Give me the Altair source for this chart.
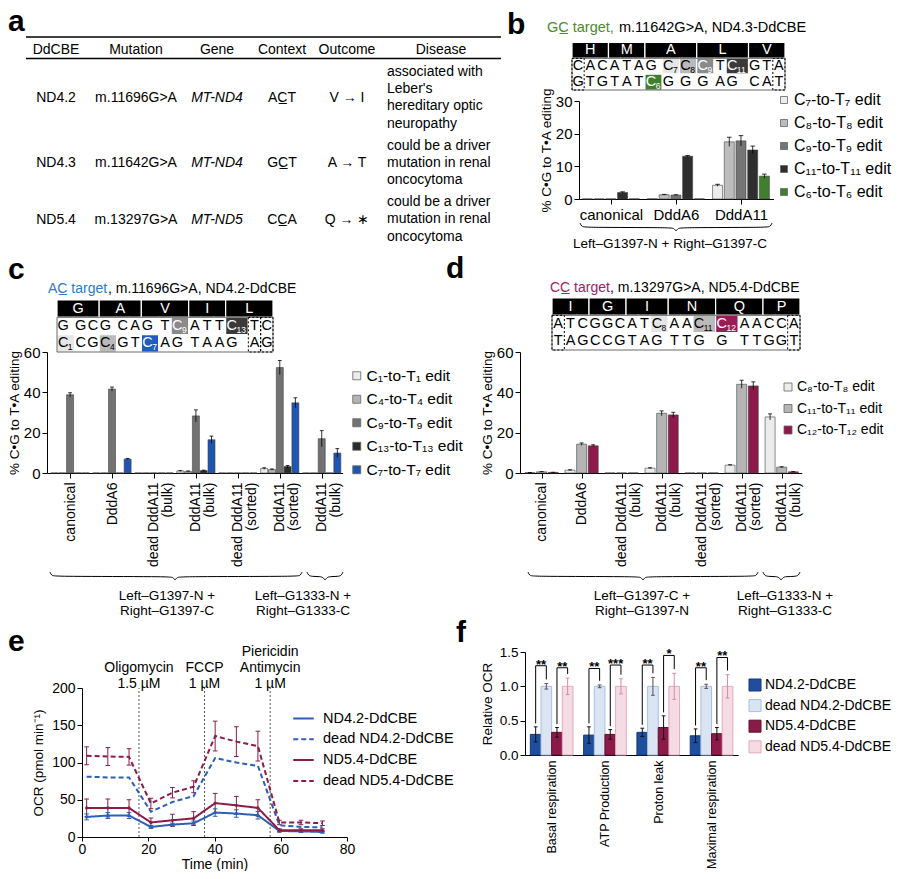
import json
import altair as alt
import pandas as pd

W, H = 884, 863
FONT = "Liberation Sans"


def R(v):
    """reference pixel -> view pixel (page margin is 8px)"""
    return v - 8


# =====================================================================
# DATA
# =====================================================================
# ---- panel a (table) ----
tbl_header = ["DdCBE", "Mutation", "Gene", "Context", "Outcome", "Disease"]
tbl_ddcbe = ["ND4.2", "ND4.3", "ND5.4"]
tbl_mutation = ["m.11696G>A", "m.11642G>A", "m.13297G>A"]
tbl_gene = ["MT-ND4", "MT-ND4", "MT-ND5"]
tbl_context = ["AC\u0332T", "GC\u0332T", "CC\u0332A"]
tbl_outcome = ["V \u2192 I", "A \u2192 T", "Q \u2192 \u2217"]
tbl_disease = [
    "associated with\nLeber's\nhereditary optic\nneuropathy",
    "could be a driver\nmutation in renal\noncocytoma",
    "could be a driver\nmutation in renal\noncocytoma",
]

# ---- panel b ----
b_groups = ["canonical", "DddA6", "DddA11"]
b_edits = ["C₇-to-T₇ edit", "C₈-to-T₈ edit", "C₉-to-T₉ edit", "C₁₁-to-T₁₁ edit", "C₆-to-T₆ edit"]
b_mean = [[0.05, 0.05, 0.05, 2.0, 0.05],
          [0.1, 1.3, 1.2, 13.1, 0.05],
          [4.2, 17.5, 17.8, 15.0, 7.0]]
b_sd = [[0, 0, 0, 0.2, 0],
        [0, 0.1, 0.1, 0.2, 0],
        [0.3, 1.4, 1.6, 1.2, 0.6]]
b_aa = ["H", "M", "A", "L", "V"]
b_top = ["C", "A", "C", "A", "T", "A", "G", "C7", "C8", "C9", "T", "C11", "G", "T", "A"]
b_bottom = ["G", "T", "G", "T", "A", "T", "C6", "G", "G", "G", "A", "G", "C", "A", "T"]
b_shade = {(1, 7): "g1", (1, 8): "g2", (1, 9): "g3", (1, 11): "g4", (2, 6): "green"}
b_dashed = [0, 14]

# ---- panel c ----
cd_groups = ["canonical", "DddA6", "dead DddA11\n(bulk)", "DddA11\n(bulk)",
             "dead DddA11\n(sorted)", "DddA11\n(sorted)", "DddA11\n(bulk)"]
c_edits = ["C₁-to-T₁ edit", "C₄-to-T₄ edit", "C₉-to-T₉ edit", "C₁₃-to-T₁₃ edit", "C₇-to-T₇ edit"]
c_mean = [[0.05, 0.05, 38.8, 0.05, 0.05],
          [0.05, 0.05, 41.6, 0.05, 6.9],
          [0.05, 0.05, 0.05, 0.05, 0.05],
          [1.0, 0.8, 28.3, 1.2, 16.5],
          [0.05, 0.05, 0.05, 0.05, 0.05],
          [2.2, 1.7, 52.3, 3.2, 34.8],
          [0.05, 0.05, 17.0, 0.05, 9.9]]
c_sd = [[0, 0, 1.0, 0, 0],
        [0, 0, 1.0, 0, 0.3],
        [0, 0, 0, 0, 0],
        [0.2, 0.2, 3.0, 0.2, 1.8],
        [0, 0, 0, 0, 0],
        [0.4, 0.3, 3.5, 0.5, 2.5],
        [0, 0, 4.0, 0, 2.2]]
c_aa = ["G", "A", "V", "I", "L"]
c_top = ["G", "G", "C", "G", "C", "A", "G", "T", "C9", "A", "T", "T", "C13", "T", "C"]
c_bottom = ["C1", "C", "G", "C4", "G", "T", "C7", "A", "G", "T", "A", "A", "G", "A", "G"]
c_shade = {(1, 8): "g3", (1, 12): "g4", (2, 0): "g1", (2, 3): "g2", (2, 6): "blue"}
c_dashed = [13, 14]

# ---- panel d ----
d_edits = ["C₈-to-T₈ edit", "C₁₁-to-T₁₁ edit", "C₁₂-to-T₁₂ edit"]
d_mean = [[0.2, 0.6, 0.3],
          [1.4, 14.3, 13.5],
          [0.05, 0.05, 0.05],
          [2.4, 29.6, 28.8],
          [0.05, 0.05, 0.05],
          [3.9, 44.0, 43.2],
          [27.8, 2.9, 0.6]]
d_sd = [[0.05, 0.1, 0.05],
        [0.2, 0.6, 0.5],
        [0, 0, 0],
        [0.2, 1.2, 1.3],
        [0, 0, 0],
        [0.2, 2.0, 2.0],
        [1.5, 0.2, 0.1]]
d_aa = ["I", "G", "I", "N", "Q", "P"]
d_top = ["A", "T", "C", "G", "G", "C", "A", "T", "C8", "A", "A", "C11", "C12", "A", "A", "C", "C", "A"]
d_bottom = ["T", "A", "G", "C", "C", "G", "T", "A", "G", "T", "T", "G", "G", "T", "T", "G", "G", "T"]
d_shade = {(1, 8): "g1", (1, 11): "g2", (1, 12): "maroon"}
d_dashed = [0, 17]

# ---- panel e ----
e_time = [1.4, 7.8, 14.2, 20.8, 27.3, 33.7, 40.2, 46.6, 53.1, 59.6, 66.1, 72.6]
e_series = ["ND4.2-DdCBE", "dead ND4.2-DdCBE", "ND5.4-DdCBE", "dead ND5.4-DdCBE"]
e_mean = [[27, 28.8, 28.8, 13.5, 16.6, 18.4, 32.8, 31.5, 29.2, 8.1, 7.6, 6.7],
          [81, 80, 80, 34, 47, 55, 106, 100, 95.5, 15.7, 13.5, 13],
          [39, 39, 39, 19.5, 22.5, 25, 45.5, 42.5, 39, 9, 9, 9],
          [109, 108, 107.5, 45, 59.5, 67.5, 135.5, 128, 122, 19.5, 19.5, 18.5]]
e_err = [[4, 4, 4, 2, 2, 3, 5, 5, 5, 1.5, 1.5, 1.5],
         [0, 0, 0, 0, 0, 0, 0, 0, 0, 0, 0, 0],
         [12, 12, 11, 6, 8, 9, 13, 12, 11, 2, 2, 2],
         [12, 12, 11, 7, 7, 8, 20, 20, 20, 3, 3, 3]]
e_inj_time = [17.2, 37.0, 56.8]
e_inj_label = ["Oligomycin\n1.5 µM", "FCCP\n1 µM", "Piericidin\nAntimycin\n1 µM"]

# ---- panel f ----
f_cats = ["Basal respiration", "ATP Production", "Proton leak", "Maximal respiration"]
f_series = ["ND4.2-DdCBE", "dead ND4.2-DdCBE", "ND5.4-DdCBE", "dead ND5.4-DdCBE"]
f_mean = [[0.30, 0.29, 0.33, 0.28],
          [1.0, 1.0, 1.0, 1.0],
          [0.33, 0.30, 0.40, 0.31],
          [1.0, 1.0, 1.0, 1.0]]
f_sd = [[0.11, 0.12, 0.06, 0.10],
        [0.04, 0.02, 0.13, 0.03],
        [0.07, 0.07, 0.17, 0.09],
        [0.12, 0.11, 0.19, 0.17]]
f_pairs = [(0, 1), (2, 3)]
f_stars = [["**", "**", "**", "**"], ["**", "***", "*", "**"]]
f_bracket = [[1.30, 1.26, 1.31, 1.27], [1.27, 1.31, 1.45, 1.42]]

# =====================================================================
# STYLE / LAYOUT
# =====================================================================
SEQ_SHADE = {"aa": "#000000", "plain": "#ffffff", "g1": "#e6e6e6", "g2": "#bababa",
             "g3": "#8a8a8a", "g4": "#3a3a3a", "green": "#3f7f2f", "blue": "#1f5cc0",
             "maroon": "#9b1c55"}
WHITE_TEXT = {"aa", "g3", "g4", "green", "blue", "maroon"}

b_colors = ["#ececec", "#bdbdbd", "#757575", "#2e2e2e", "#3f7f2f"]
c_colors = ["#ececec", "#b3b3b3", "#727272", "#2b2b2b", "#1f55b0"]
d_colors = ["#ececec", "#b5b5b5", "#8e1a4b"]
e_colors = ["#2c5fb5", "#2c5fb5", "#8b1c48", "#8b1c48"]
f_fill = ["#1f4e9e", "#dae4f3", "#8b1a48", "#f4dbe4"]
f_stroke = ["#15397a", "#a9bfe3", "#5f1030", "#e4a9bf"]
f_errc = ["#111111", "#555555", "#111111", "#d98aa6"]


def lin(domain, rng):
    return alt.Scale(domain=domain, range=[R(rng[0]), R(rng[1])], nice=False, zero=False)


def ident_text(rows, align="center", baseline="alphabetic", weight="normal",
               style="normal", line_height=None):
    df = pd.DataFrame(rows)
    df["x"] = df["x"].map(R)
    df["y"] = df["y"].map(R)
    kw = dict(align=align, baseline=baseline, font=FONT, fontWeight=weight,
              fontStyle=style, lineBreak="\n")
    if line_height:
        kw["lineHeight"] = line_height
    return alt.Chart(df).mark_text(**kw).encode(
        x=alt.X("x:Q", scale=None, axis=None),
        y=alt.Y("y:Q", scale=None, axis=None),
        text="t:N",
        color=alt.Color("c:N", scale=None, legend=None),
        size=alt.Size("fs:Q", scale=None, legend=None),
    )


layers = []

# ---------------- panel letters ----------------
letters = ["a", "b", "c", "d", "e", "f"]
letter_pos = [(8, 31), (507, 34), (8, 279), (446, 278), (8, 651), (456, 642)]
layers.append(ident_text(
    [dict(x=p[0], y=p[1], t=l, c="black", fs=30) for l, p in zip(letters, letter_pos)],
    align="left", weight="bold"))

# ---------------- panel a ----------------
col_x = [56, 136, 217, 282, 347, 441]
row_base = [101.5, 167, 224]
disease_x = 387
disease_top = [64.5, 138.5, 195]
rows = [dict(x=cx, y=53.5, t=h, c="black", fs=14) for cx, h in zip(col_x, tbl_header)]
for i in range(3):
    for cx, v in zip([56, 136, 282, 347], [tbl_ddcbe[i], tbl_mutation[i], tbl_context[i], tbl_outcome[i]]):
        rows.append(dict(x=cx, y=row_base[i], t=v, c="black", fs=14))
layers.append(ident_text(rows))
layers.append(ident_text([dict(x=217, y=row_base[i], t=tbl_gene[i], c="black", fs=14) for i in range(3)],
                         style="italic"))
layers.append(ident_text([dict(x=disease_x, y=disease_top[i], t=tbl_disease[i], c="black", fs=14)
                          for i in range(3)], align="left", baseline="top", line_height=17.4))
rule_df = pd.DataFrame({"x": [R(26), R(26)], "x2": [R(501), R(501)], "y": [R(37), R(58.5)]})
layers.append(alt.Chart(rule_df).mark_rule(color="black", strokeWidth=1.3).encode(
    x=alt.X("x:Q", scale=None, axis=None), x2="x2:Q", y=alt.Y("y:Q", scale=None, axis=None)))

# ---------------- titles ----------------
layers.append(ident_text([
    dict(x=547, y=32, t="GC\u0332 target,", c="#4b8b2b", fs=14.5),
    dict(x=619, y=32, t="m.11642G>A, ND4.3-DdCBE", c="black", fs=14.5),
    dict(x=48, y=293, t="AC\u0332 target", c="#2c7bc4", fs=14),
    dict(x=108, y=293, t=", m.11696G>A, ND4.2-DdCBE", c="black", fs=14),
    dict(x=550, y=292, t="CC\u0332 target", c="#a3215e", fs=14),
    dict(x=610, y=292, t=", m.13297G>A, ND5.4-DdCBE", c="black", fs=14),
], align="left"))


# ---------------- braces + labels ----------------
def brace_pts(bid, a, b, m, y0):
    pts = [(a, 0), (a + 1.5, 3.5), (a + 5, 4.5), (m - 5, 4.5), (m - 1.5, 5.5), (m, 9),
           (m + 1.5, 5.5), (m + 5, 4.5), (b - 5, 4.5), (b - 1.5, 3.5), (b, 0)]
    return [dict(bid=bid, o=i, x=R(px), y=R(y0 + py)) for i, (px, py) in enumerate(pts)]


brace_rows = (brace_pts("b", 580, 772, 676, 223) + brace_pts("c1", 50, 302, 175, 572)
              + brace_pts("c2", 307, 343, 325, 572) + brace_pts("d1", 528, 758, 643, 572)
              + brace_pts("d2", 763, 800, 781, 572))
layers.append(alt.Chart(pd.DataFrame(brace_rows)).mark_line(
    color="black", strokeWidth=1, interpolate="basis").encode(
    x=alt.X("x:Q", scale=None, axis=None), y=alt.Y("y:Q", scale=None, axis=None),
    detail="bid:N", order="o:Q"))
layers.append(ident_text([dict(x=670, y=248, t="Left\u2013G1397-N + Right\u2013G1397-C", c="black", fs=13.5)]))
layers.append(ident_text([
    dict(x=167, y=589, t="Left\u2013G1397-N +\nRight\u2013G1397-C", c="black", fs=13.5),
    dict(x=303, y=589, t="Left\u2013G1333-N +\nRight\u2013G1333-C", c="black", fs=13.5),
    dict(x=642, y=589, t="Left\u2013G1397-C +\nRight\u2013G1397-N", c="black", fs=13.5),
    dict(x=785, y=589, t="Left\u2013G1333-N +\nRight\u2013G1333-C", c="black", fs=13.5),
], baseline="top", line_height=15))


# ---------------- sequence boxes ----------------
def seq_layers(aa, top, bottom, shades, dashed, xr, yr, fs):
    n = len(top)
    widths = [1 + 0.42 * max(len(top[i]) - 1, len(bottom[i]) - 1) for i in range(n)]
    edges = [0.0]
    for w in widths:
        edges.append(edges[-1] + w)
    rows = []
    for i, a in enumerate(aa):
        e0, e1 = edges[3 * i], edges[3 * i + 3]
        rows.append(dict(c0=e0, c1=e1, cm=(e0 + e1) / 2, r0=0, r1=1, t=a, sub="", shade="aa"))
    for ri, strand in ((1, top), (2, bottom)):
        for ci, letter in enumerate(strand):
            rows.append(dict(c0=edges[ci], c1=edges[ci + 1], cm=edges[ci] + 0.5, r0=ri, r1=ri + 1,
                             t=letter[0], sub=letter[1:], shade=shades.get((ri, ci), "plain")))
    df = pd.DataFrame(rows)
    df["cs"] = df["cm"] + 0.38
    df["rm"] = (df["r0"] + df["r1"]) / 2
    df["tc"] = ["white" if s in WHITE_TEXT else "black" for s in df["shade"]]
    xs = lin([0, edges[-1]], xr)
    ys = lin([0, 3], yr)
    keys = list(SEQ_SHADE)
    out = []
    out.append(alt.Chart(df).mark_rect(stroke="white", strokeWidth=1.2).encode(
        x=alt.X("c0:Q", scale=xs, axis=None), x2="c1:Q",
        y=alt.Y("r0:Q", scale=ys, axis=None), y2="r1:Q",
        color=alt.Color("shade:N", scale=alt.Scale(domain=keys, range=[SEQ_SHADE[k] for k in keys]),
                        legend=None)))
    box = pd.DataFrame({"c0": [0], "c1": [edges[-1]], "r0": [1], "r1": [3]})
    out.append(alt.Chart(box).mark_rect(fill=None, stroke="#444444", strokeWidth=0.8).encode(
        x=alt.X("c0:Q", scale=xs, axis=None), x2="c1:Q",
        y=alt.Y("r0:Q", scale=ys, axis=None), y2="r1:Q"))
    dbox = pd.DataFrame({"c0": [edges[c] for c in dashed], "c1": [edges[c + 1] for c in dashed],
                         "r0": [1] * len(dashed), "r1": [3] * len(dashed)})
    out.append(alt.Chart(dbox).mark_rect(fill=None, stroke="black", strokeWidth=1,
                                         strokeDash=[2, 2]).encode(
        x=alt.X("c0:Q", scale=xs, axis=None), x2="c1:Q",
        y=alt.Y("r0:Q", scale=ys, axis=None), y2="r1:Q"))
    out.append(alt.Chart(df).mark_text(font=FONT, fontSize=fs, baseline="middle").encode(
        x=alt.X("cm:Q", scale=xs, axis=None), y=alt.Y("rm:Q", scale=ys, axis=None),
        text="t:N", color=alt.Color("tc:N", scale=None, legend=None)))
    subs = df[df["sub"] != ""]
    out.append(alt.Chart(subs).mark_text(font=FONT, fontSize=8.5, baseline="middle", align="left",
                                         dy=4).encode(
        x=alt.X("cs:Q", scale=xs, axis=None), y=alt.Y("rm:Q", scale=ys, axis=None),
        text="sub:N", color=alt.Color("tc:N", scale=None, legend=None)))
    return out


layers += seq_layers(b_aa, b_top, b_bottom, b_shade, b_dashed, (572, 785), (42.5, 90), 14.5)
layers += seq_layers(c_aa, c_top, c_bottom, c_shade, c_dashed, (57, 273), (300, 352), 14.5)
layers += seq_layers(d_aa, d_top, d_bottom, d_shade, d_dashed, (552, 800), (298, 350), 14.5)


# ---------------- grouped bar panels ----------------
def bar_panel(groups, edits, colors, means, sds, g):
    m = len(edits)
    rows = []
    for gi in range(len(groups)):
        for k, e in enumerate(edits):
            c = gi + (k - (m - 1) / 2) * g["stride"]
            mu, s = means[gi][k], sds[gi][k]
            rows.append(dict(g=gi, edit=e, xl=c - g["bw"] / 2, xr=c + g["bw"] / 2, xc=c,
                             cl=c - g["cap"] / 2, cr=c + g["cap"] / 2, base=0.0,
                             mean=mu, lo=max(mu - s, 0), hi=mu + s, sd=s))
    df = pd.DataFrame(rows)
    xs = lin(g["xdom"], g["xr"])
    ys = lin(g["ydom"], g["yr"])
    labels = [t.replace("\n", "|") for t in groups]
    label_expr = "split(" + json.dumps(labels) + "[round(datum.value)], '|')"
    xaxis = alt.Axis(orient="bottom", offset=R(g["yr"][0]) - H, values=list(range(len(groups))),
                     labelExpr=label_expr, labelAngle=g["angle"], title=None,
                     labelFontSize=g["xfs"], tickSize=5, labelPadding=g["lpad"],
                     labelLineHeight=13.5, labelFlush=False, labelOverlap=False,
                     domainWidth=1, tickWidth=1)
    yaxis = alt.Axis(orient="left", offset=-R(g["xr"][0]), values=g["yvals"],
                     title="% C\u2022G to T\u2022A editing", labelFontSize=15, titleFontSize=13.5,
                     tickSize=5, labelPadding=2, titlePadding=2, domainWidth=1, tickWidth=1)
    lg = g["legend"]
    legend = alt.Legend(orient="none", legendX=R(lg[0]), legendY=R(lg[1]), title=None,
                        symbolType="square", symbolSize=lg[2], labelFontSize=lg[5],
                        rowPadding=lg[3], labelOffset=lg[4], symbolStrokeColor="#666666",
                        symbolStrokeWidth=0.8, padding=0, labelLimit=300)
    out = []
    out.append(alt.Chart(df).mark_bar(stroke="#444444", strokeWidth=0.6).encode(
        x=alt.X("xl:Q", scale=xs, axis=xaxis), x2="xr:Q",
        y=alt.Y("mean:Q", scale=ys, axis=yaxis), y2="base:Q",
        color=alt.Color("edit:N", scale=alt.Scale(domain=edits, range=colors), legend=legend)))
    err = df[df["sd"] > 0]
    out.append(alt.Chart(err).mark_rule(color="black", strokeWidth=0.8).encode(
        x=alt.X("xc:Q", scale=xs, axis=None), y=alt.Y("lo:Q", scale=ys, axis=None), y2="hi:Q"))
    out.append(alt.Chart(err).mark_rule(color="black", strokeWidth=0.8).encode(
        x=alt.X("cl:Q", scale=xs, axis=None), x2="cr:Q", y=alt.Y("hi:Q", scale=ys, axis=None)))
    return out


layers += bar_panel(b_groups, b_edits, b_colors, b_mean, b_sd, dict(
    xdom=[-0.49, 2.5], xr=(579, 773.5), ydom=[0, 30], yr=(199, 101), yvals=[0, 10, 20, 30],
    stride=0.18, bw=0.154, cap=0.07, angle=0, xfs=15, lpad=3,
    legend=(776, 92, 49, 7, 2, 16)))
layers += bar_panel(cd_groups, c_edits, c_colors, c_mean, c_sd, dict(
    xdom=[-0.55, 6.5], xr=(47, 342.7), ydom=[0, 60], yr=(473, 352), yvals=[0, 20, 40, 60],
    stride=0.186, bw=0.167, cap=0.09, angle=270, xfs=14, lpad=4,
    legend=(349, 368, 64, 6.5, 2, 15.5)))
layers += bar_panel(cd_groups, d_edits, d_colors, d_mean, d_sd, dict(
    xdom=[-0.54, 6.5], xr=(520, 801.7), ydom=[0, 60], yr=(473, 352), yvals=[0, 20, 40, 60],
    stride=0.29, bw=0.25, cap=0.1, angle=270, xfs=14, lpad=4,
    legend=(781, 380, 64, 7.5, 2, 14)))

# ---------------- panel e ----------------
e_xs = lin([0, 80], (82, 347))
e_ys = lin([0, 200], (837, 688))
erows = []
for si, s in enumerate(e_series):
    for ti, t in enumerate(e_time):
        mu, er = e_mean[si][ti], e_err[si][ti]
        erows.append(dict(series=s, t=t, v=mu, lo=mu - er, hi=mu + er, err=er,
                          cl=t - 0.7, cr=t + 0.7, solid=("dead" not in s)))
edf = pd.DataFrame(erows)
inj = pd.DataFrame({"t": e_inj_time, "y0": [0, 0, 0], "y1": [200, 200, 200]})
layers.append(alt.Chart(inj).mark_rule(color="#555555", strokeWidth=1, strokeDash=[2, 2]).encode(
    x=alt.X("t:Q", scale=e_xs, axis=None), y=alt.Y("y0:Q", scale=e_ys, axis=None), y2="y1:Q"))
inj_txt = pd.DataFrame({"t": e_inj_time, "label": e_inj_label})
inj_txt["y"] = [R(688 - 11 - 16 * (lab.count("\n"))) for lab in e_inj_label]
layers.append(alt.Chart(inj_txt).mark_text(font=FONT, fontSize=14, baseline="top",
                                           lineBreak="\n", lineHeight=16).encode(
    x=alt.X("t:Q", scale=e_xs, axis=None), y=alt.Y("y:Q", scale=None, axis=None), text="label:N"))
e_legend = alt.Legend(orient="none", legendX=R(292), legendY=R(707), title=None,
                      symbolType="stroke", symbolSize=420, symbolStrokeWidth=2,
                      labelFontSize=14.5, rowPadding=2.8, labelOffset=8, padding=0, labelLimit=300)
err_e = edf[edf["err"] > 0]
layers.append(alt.Chart(err_e).mark_rule(strokeWidth=1).encode(
    x=alt.X("t:Q", scale=e_xs, axis=None), y=alt.Y("lo:Q", scale=e_ys, axis=None), y2="hi:Q",
    color=alt.Color("series:N", scale=alt.Scale(domain=e_series, range=e_colors), legend=None)))
layers.append(alt.Chart(err_e).mark_rule(strokeWidth=1).encode(
    x=alt.X("cl:Q", scale=e_xs, axis=None), x2="cr:Q", y=alt.Y("hi:Q", scale=e_ys, axis=None),
    color=alt.Color("series:N", scale=alt.Scale(domain=e_series, range=e_colors), legend=None)))
layers.append(alt.Chart(err_e).mark_rule(strokeWidth=1).encode(
    x=alt.X("cl:Q", scale=e_xs, axis=None), x2="cr:Q", y=alt.Y("lo:Q", scale=e_ys, axis=None),
    color=alt.Color("series:N", scale=alt.Scale(domain=e_series, range=e_colors), legend=None)))
layers.append(alt.Chart(edf).mark_line(strokeWidth=2).encode(
    x=alt.X("t:Q", scale=e_xs, axis=alt.Axis(
        orient="bottom", offset=R(837) - H, values=[0, 20, 40, 60, 80], title="Time (min)",
        labelFontSize=14, titleFontSize=14, tickSize=4, labelFlush=False, labelPadding=1,
        titlePadding=1)),
    y=alt.Y("v:Q", scale=e_ys, axis=alt.Axis(
        orient="left", offset=-R(82), values=[0, 50, 100, 150, 200], title="OCR (pmol min\u207b\u00b9)",
        labelFontSize=14, titleFontSize=13.5, tickSize=5, labelPadding=2, titlePadding=6)),
    color=alt.Color("series:N", scale=alt.Scale(domain=e_series, range=e_colors), legend=e_legend),
    strokeDash=alt.StrokeDash("series:N", scale=alt.Scale(domain=e_series,
                                                           range=[[1, 0], [5, 3], [1, 0], [5, 3]]),
                              legend=e_legend),
    detail="series:N"))
layers.append(alt.Chart(edf[edf["solid"]]).mark_point(filled=True, size=10, opacity=1).encode(
    x=alt.X("t:Q", scale=e_xs, axis=None), y=alt.Y("v:Q", scale=e_ys, axis=None),
    color=alt.Color("series:N", scale=alt.Scale(domain=e_series, range=e_colors), legend=None)))

# ---------------- panel f ----------------
f_xs = lin([-0.5, 3.5], (525, 738.2))
f_ys = lin([0, 1.5], (755, 652))
frows = []
for si, s in enumerate(f_series):
    for ci in range(len(f_cats)):
        c = ci + (si - 1.5) * 0.2
        mu, sd = f_mean[si][ci], f_sd[si][ci]
        frows.append(dict(series=s, cat=ci, xl=c - 0.1, xr=c + 0.1, xc=c, cl=c - 0.035,
                          cr=c + 0.035, base=0.0, mean=mu, lo=mu - sd, hi=mu + sd))
fdf = pd.DataFrame(frows)
f_legend = alt.Legend(orient="none", legendX=R(748), legendY=R(678), title=None,
                      symbolType="square", symbolSize=144, labelFontSize=14, rowPadding=4.6,
                      labelOffset=3, padding=0, labelLimit=300, symbolStrokeWidth=1)
f_label_expr = "split(" + json.dumps(f_cats) + "[round(datum.value)], '|')"
layers.append(alt.Chart(fdf).mark_bar(strokeWidth=1).encode(
    x=alt.X("xl:Q", scale=f_xs, axis=alt.Axis(
        orient="bottom", offset=R(755) - H, values=[0, 1, 2, 3], labelExpr=f_label_expr,
        labelAngle=270, title=None, labelFontSize=12.5, ticks=False, labelPadding=5,
        labelFlush=False, labelOverlap=False)),
    x2="xr:Q",
    y=alt.Y("mean:Q", scale=f_ys, axis=alt.Axis(
        orient="left", offset=-R(525), values=[0, 0.5, 1.0, 1.5], format=".1f",
        title="Relative OCR", labelFontSize=13.5, titleFontSize=13.5, tickSize=5,
        labelPadding=2, titlePadding=5)),
    y2="base:Q",
    color=alt.Color("series:N", scale=alt.Scale(domain=f_series, range=f_fill), legend=f_legend),
    stroke=alt.Stroke("series:N", scale=alt.Scale(domain=f_series, range=f_stroke), legend=None)))
layers.append(alt.Chart(fdf).mark_rule(strokeWidth=1).encode(
    x=alt.X("xc:Q", scale=f_xs, axis=None), y=alt.Y("lo:Q", scale=f_ys, axis=None), y2="hi:Q",
    color=alt.Color("series:N", scale=alt.Scale(domain=f_series, range=f_errc), legend=None)))
layers.append(alt.Chart(fdf).mark_rule(strokeWidth=1).encode(
    x=alt.X("cl:Q", scale=f_xs, axis=None), x2="cr:Q", y=alt.Y("hi:Q", scale=f_ys, axis=None),
    color=alt.Color("series:N", scale=alt.Scale(domain=f_series, range=f_errc), legend=None)))
layers.append(alt.Chart(fdf).mark_rule(strokeWidth=1).encode(
    x=alt.X("cl:Q", scale=f_xs, axis=None), x2="cr:Q", y=alt.Y("lo:Q", scale=f_ys, axis=None),
    color=alt.Color("series:N", scale=alt.Scale(domain=f_series, range=f_errc), legend=None)))
brows = []
srows = []
for pi, (a, b) in enumerate(f_pairs):
    for ci in range(len(f_cats)):
        xa = ci + (a - 1.5) * 0.2
        xb = ci + (b - 1.5) * 0.2
        top = f_bracket[pi][ci]
        ya = f_mean[a][ci] + f_sd[a][ci] + 0.05
        yb = f_mean[b][ci] + f_sd[b][ci] + 0.06
        brows.append(dict(x=xa, x2=xa, y=ya, y2=top))
        brows.append(dict(x=xb, x2=xb, y=yb, y2=top))
        brows.append(dict(x=xa, x2=xb, y=top, y2=top))
        srows.append(dict(x=(xa + xb) / 2, y=top, t=f_stars[pi][ci]))
layers.append(alt.Chart(pd.DataFrame(brows)).mark_rule(color="black", strokeWidth=1).encode(
    x=alt.X("x:Q", scale=f_xs, axis=None), x2="x2:Q",
    y=alt.Y("y:Q", scale=f_ys, axis=None), y2="y2:Q"))
layers.append(alt.Chart(pd.DataFrame(srows)).mark_text(
    font=FONT, fontSize=13, fontWeight="bold", baseline="alphabetic", dy=3).encode(
    x=alt.X("x:Q", scale=f_xs, axis=None), y=alt.Y("y:Q", scale=f_ys, axis=None), text="t:N"))

# =====================================================================
chart = alt.layer(*layers).properties(
    width=W, height=H, autosize=alt.AutoSizeParams(type="none"), padding=0, background="white"
).resolve_scale(
    x="independent", y="independent", color="independent", stroke="independent",
    strokeDash="independent", size="independent"
).resolve_axis(x="independent", y="independent").resolve_legend(
    color="independent", stroke="independent", strokeDash="independent"
).configure_view(stroke=None).configure_axis(
    labelFont=FONT, titleFont=FONT, labelColor="black", titleColor="black", domainColor="black",
    tickColor="black", grid=False, titleFontWeight="normal"
).configure_legend(labelFont=FONT, labelColor="black")

chart.save("out.html", embed_options={"renderer": "svg", "actions": False})
